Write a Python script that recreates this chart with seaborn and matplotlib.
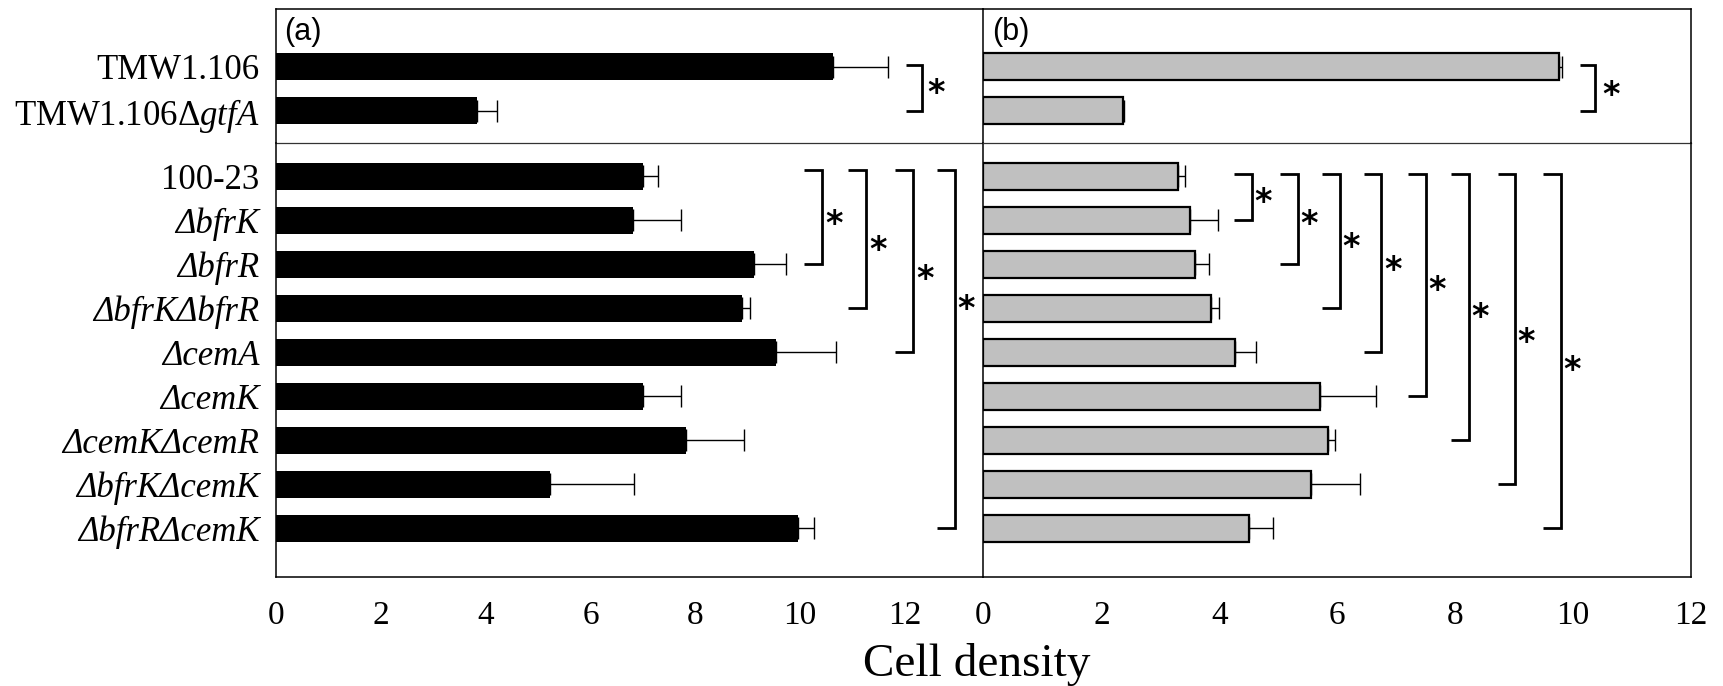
import numpy as np
import pandas as pd
import matplotlib
matplotlib.use("Agg")
import matplotlib.pyplot as plt
import seaborn as sns

# ---------------- data ----------------
top_labels = ["TMW1.106", r"TMW1.106$\Delta\mathit{gtfA}$"]
bottom_labels = ["100-23", "ΔbfrK", "ΔbfrR", "ΔbfrKΔbfrR", "ΔcemA", "ΔcemK",
                 "ΔcemKΔcemR", "ΔbfrKΔcemK", "ΔbfrRΔcemK"]

a_top_vals = [10.62, 3.84]
a_top_err = [1.05, 0.38]
a_bot_vals = [7.00, 6.82, 9.12, 8.90, 9.54, 7.00, 7.82, 5.23, 9.96]
a_bot_err = [0.29, 0.90, 0.61, 0.14, 1.14, 0.73, 1.11, 1.60, 0.30]

b_top_vals = [9.76, 2.37]
b_top_err = [0.06, 0.02]
b_bot_vals = [3.30, 3.51, 3.58, 3.86, 4.26, 5.71, 5.85, 5.56, 4.50]
b_bot_err = [0.11, 0.46, 0.25, 0.13, 0.37, 0.94, 0.11, 0.83, 0.41]

x_ticks = [0, 2, 4, 6, 8, 10, 12]
x_label = "Cell density"
panel_labels = ["(a)", "(b)"]

# significance brackets: (start index, end index)
a_top_pairs = [(0, 1)]
a_bot_pairs = [(0, 2), (0, 3), (0, 4), (0, 8)]
b_top_pairs = [(0, 1)]
b_bot_pairs = [(0, 1), (0, 2), (0, 3), (0, 4), (0, 5), (0, 6), (0, 7), (0, 8)]

# ---------------- style ----------------
sns.set_theme(style="white")
plt.rcParams["font.family"] = ["Liberation Serif", "DejaVu Serif"]
plt.rcParams["mathtext.fontset"] = "custom"
plt.rcParams["mathtext.rm"] = "Liberation Serif"
plt.rcParams["mathtext.it"] = "Liberation Serif:italic"
plt.rcParams["text.color"] = "black"
plt.rcParams["xtick.color"] = "black"
plt.rcParams["ytick.color"] = "black"
plt.rcParams["axes.labelcolor"] = "black"

fig = plt.figure(figsize=(17.23, 6.86), dpi=100)

L_a, DIV, R_b = 0.1602, 0.5708, 0.9814
TOP, SEP, BOT = 0.9869, 0.7915, 0.1589

ax_at = fig.add_axes([L_a, SEP, DIV - L_a, TOP - SEP])
ax_ab = fig.add_axes([L_a, BOT, DIV - L_a, SEP - BOT])
ax_bt = fig.add_axes([DIV, SEP, R_b - DIV, TOP - SEP])
ax_bb = fig.add_axes([DIV, BOT, R_b - DIV, SEP - BOT])

BAR_H = 0.62


def draw(ax, labels, vals, errs, color, edge, lw):
    df = pd.DataFrame({"label": labels, "value": vals})
    sns.barplot(data=df, x="value", y="label", orient="h", color=color,
                saturation=1, width=BAR_H, edgecolor=edge, linewidth=lw,
                errorbar=None, ax=ax)
    pos = np.arange(len(vals))
    ax.errorbar(vals, pos, xerr=[np.zeros(len(errs)), errs], fmt="none",
                ecolor="black", elinewidth=1.0, capsize=8, capthick=1.0,
                zorder=1)
    ax.set_xlabel("")
    ax.set_ylabel("")
    ax.set_facecolor("none")


draw(ax_at, top_labels, a_top_vals, a_top_err, "black", "black", 0)
draw(ax_ab, bottom_labels, a_bot_vals, a_bot_err, "black", "black", 0)
draw(ax_bt, top_labels, b_top_vals, b_top_err, "#c0c0c0", "black", 1.6)
draw(ax_bb, bottom_labels, b_bot_vals, b_bot_err, "#c0c0c0", "black", 1.6)

for ax in (ax_at, ax_bt):
    ax.set_ylim(1.74, -1.31)
for ax in (ax_ab, ax_bb):
    ax.set_ylim(9.11, -0.755)
for ax in (ax_at, ax_ab):
    ax.set_xlim(0, 13.5)
for ax in (ax_bt, ax_bb):
    ax.set_xlim(0, 12)

for ax in (ax_at, ax_ab, ax_bt, ax_bb):
    for s in ax.spines.values():
        s.set_color("black")
        s.set_linewidth(1.1)
        s.set_visible(True)
    ax.tick_params(axis="y", length=0)
for ax in (ax_at, ax_bt):
    ax.spines["bottom"].set_color("#333333")
    ax.spines["bottom"].set_linewidth(0.9)
    ax.set_xticks([])
for ax in (ax_ab, ax_bb):
    ax.spines["top"].set_visible(False)
    ax.set_xticks(x_ticks)
    ax.set_xticklabels([str(t) for t in x_ticks])
    ax.tick_params(axis="x", direction="in", length=7, width=0.8,
                   labelsize=24, pad=17, colors="black")
ax_bb.spines["left"].set_visible(False)
ax_bt.spines["left"].set_visible(False)

# y labels only on panel (a)
for ax in (ax_bt, ax_bb):
    ax.set_yticklabels([])
for ax in (ax_at, ax_ab):
    ax.tick_params(axis="y", labelsize=25, pad=12, colors="black")
for i, t in enumerate(ax_ab.get_yticklabels()):
    if i > 0:
        t.set_fontstyle("italic")

# panel labels
for ax, lab in ((ax_at, panel_labels[0]), (ax_bt, panel_labels[1])):
    ax.text(0.012, 0.83, lab, transform=ax.transAxes, ha="left", va="center",
            fontsize=22, family=["Liberation Sans", "DejaVu Sans"])


def brackets(ax, pairs, xs, tick, y_top, star_dx, star_ys):
    for (i, j), x, sy in zip(pairs, xs, star_ys):
        y0 = i + y_top
        y1 = j
        ax.plot([x - tick, x, x, x - tick], [y0, y0, y1, y1], color="black",
                lw=2.0, solid_capstyle="butt", solid_joinstyle="miter",
                clip_on=False)
        ax.text(x + star_dx, sy, "*", ha="center", va="center", fontsize=24,
                fontweight="bold", family=["DejaVu Sans"])


brackets(ax_at, a_top_pairs, [12.33], 0.30, -0.04, 0.27, [0.62])
brackets(ax_ab, a_bot_pairs, [10.42, 11.26, 12.16, 12.95], 0.34, -0.15, 0.22,
         [1.09, 1.69, 2.35, 3.03])
brackets(ax_bt, b_top_pairs, [10.38], 0.26, -0.03, 0.26, [0.65])
brackets(ax_bb, b_bot_pairs, [4.55, 5.33, 6.05, 6.75, 7.5, 8.23, 9.02, 9.79],
         0.30, -0.05, 0.19,
         [0.60, 1.09, 1.61, 2.15, 2.60, 3.20, 3.79, 4.42])

fig.text((L_a + R_b) / 2 - 0.004, 0.032, x_label, ha="center", va="center",
         fontsize=34)

fig.savefig("out.png", dpi=100)
